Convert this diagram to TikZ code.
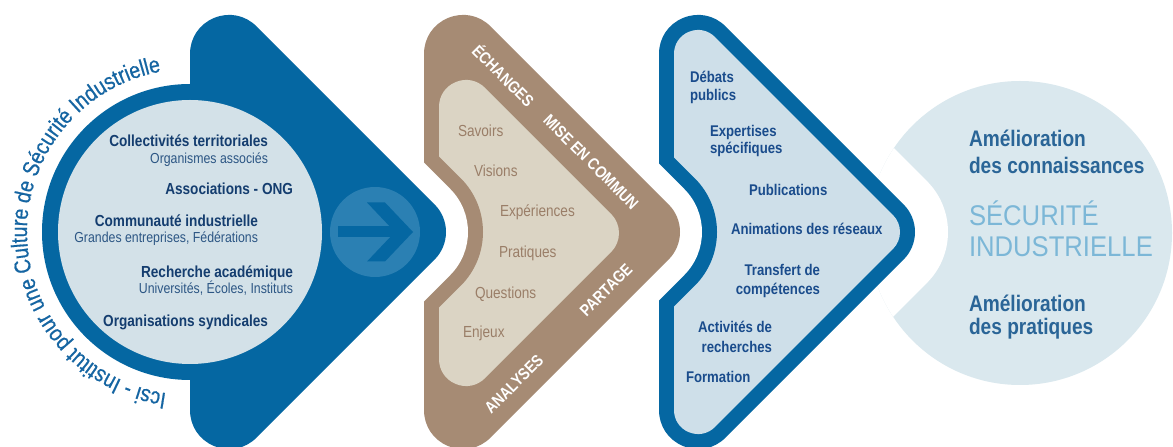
\documentclass[tikz,border=0pt]{standalone}
\usepackage{fontspec}
\setmainfont{Liberation Sans}[FakeStretch=0.85]
\newfontfamily\lightfont{Liberation Sans}[FakeStretch=0.9]
\newfontfamily\arcfont{Liberation Sans}[FakeStretch=0.85, FakeBold=0.6]
\usetikzlibrary{decorations.text}
\definecolor{blueA}{HTML}{0567A2}
\definecolor{lightL}{HTML}{D3E1E8}
\definecolor{arrowC}{HTML}{2B80B3}
\definecolor{navy}{HTML}{143D6F}
\definecolor{navyB}{HTML}{2C5684}
\definecolor{brownA}{HTML}{A68B74}
\definecolor{beige}{HTML}{DBD4C4}
\definecolor{beigeT}{HTML}{9A7E68}
\definecolor{cfill}{HTML}{CEDFE9}
\definecolor{ctext}{HTML}{1A4C8C}
\definecolor{rcircle}{HTML}{DAE8EE}
\definecolor{rtext}{HTML}{2A6597}
\definecolor{rlight}{HTML}{7CB7D7}
\definecolor{arcT}{HTML}{1565A2}
\tikzset{
  chev/.style={line join=round, line width=#1},
  lbl/.style={inner sep=0pt, outer sep=0pt},
  leftbold/.style={lbl, text=navy, font=\bfseries\fontsize{16}{16}\selectfont},
  leftsub/.style={lbl, text=navyB, font=\fontsize{14.5}{14.5}\selectfont},
  beigetxt/.style={lbl, anchor=base west, text=beigeT, font=\fontsize{16}{16}\selectfont},
  bandtxt/.style={lbl, text=white, font=\bfseries\fontsize{16.5}{16.5}\selectfont},
  ctxt/.style={lbl, text=ctext, font=\bfseries\fontsize{15.5}{15.5}\selectfont},
  rbold/.style={lbl, anchor=base west, text=rtext, font=\bfseries\fontsize{22.5}{22.5}\selectfont},
  rlightt/.style={lbl, anchor=base west, text=rlight, font=\lightfont\fontsize{28.5}{28.5}\selectfont},
}
\begin{document}
\begin{tikzpicture}[x=1pt,y=1pt]
\useasboundingbox (0,0) rectangle (1173,447);
\fill[white] (0,0) rectangle (1173,447);

% right circle with notch
\fill[rcircle] (1020,214) circle[radius=152];
\begin{scope}
  \clip (1020,214) circle[radius=152];
  \path[fill=white, draw=white, chev=144] (698,393) -- (876,215) -- (698,37) -- cycle;
\end{scope}

% third chevron (outlined)
\path[fill=blueA, draw=blueA, chev=78] (698,393) -- (876,215) -- (698,37) -- cycle;
\path[fill=cfill, draw=cfill, chev=48] (698,393) -- (876,215) -- (698,37) -- cycle;
\begin{scope}
  \clip (659,0) rectangle (1173,447);
  \path[fill=blueA, draw=blueA, chev=152] (463,393) -- (641,215) -- (463,37) -- cycle;
  \path[fill=white, draw=white, chev=122] (463,393) -- (641,215) -- (463,37) -- cycle;
\end{scope}

% brown chevron
\path[fill=brownA, draw=brownA, chev=78] (463,393) -- (641,215) -- (463,37) -- cycle;
\path[fill=beige, draw=beige, chev=54] (466,340) -- (592,214) -- (466,88) -- cycle;
\begin{scope}
  \clip (424,0) rectangle (1173,447);
  \path[fill=brownA, draw=brownA, chev=152] (229,393) -- (407,215) -- (229,37) -- cycle;
  \path[fill=white, draw=white, chev=122] (229,393) -- (407,215) -- (229,37) -- cycle;
\end{scope}

% blue chevron and circle
\path[fill=blueA, draw=blueA, chev=78] (229,393) -- (407,215) -- (229,37) -- cycle;
\fill[blueA] (190,215) circle[radius=148];
\fill[lightL] (190,215) circle[radius=132];

% arrow
\fill[arrowC] (375,215) circle[radius=45];
\fill[blueA] (338,209.5) rectangle (398,220.5);
\fill[blueA] (367,244.5) -- (385,244.5) -- (413,215) -- (385,185.5) -- (367,185.5) -- (395,215) -- cycle;

% arc text
\path[decorate, decoration={text along path, text align=center,
  text={|\color{arcT}\arcfont\fontsize{23}{23}\selectfont|Icsi - Institut pour une Culture de Sécurité Industrielle}}]
  (190,215) ++(264:163) arc[start angle=264, end angle=98, radius=163];

% left circle texts
\node[leftbold, anchor=base east] (l1) at (268,300) {Collectivités territoriales};
\node[leftsub, anchor=base east] (l2) at (268,283) {Organismes associés};
\node[leftbold, anchor=base east] (l3) at (293,252) {Associations - ONG};
\node[leftbold, anchor=base east] (l4) at (258,220) {Communauté industrielle};
\node[leftsub, anchor=base east] (l5) at (258,204) {Grandes entreprises, Fédérations};
\node[leftbold, anchor=base east] (l6) at (293,169) {Recherche académique};
\node[leftsub, anchor=base east] (l7) at (293,153) {Universités, Écoles, Instituts};
\node[leftbold, anchor=base east] (l8) at (268,120) {Organisations syndicales};

% beige texts
\node[beigetxt] (b1) at (458,310) {Savoirs};
\node[beigetxt] (b2) at (474,270) {Visions};
\node[beigetxt] (b3) at (500,230) {Expériences};
\node[beigetxt] (b4) at (499,189) {Pratiques};
\node[beigetxt] (b5) at (475,148.5) {Questions};
\node[beigetxt] (b6) at (463,109) {Enjeux};

% band texts
\node[bandtxt, rotate=-45] (w1) at (504,372) {ÉCHANGES};
\node[bandtxt, rotate=-45] (w2) at (591,285) {MISE EN COMMUN};
\node[bandtxt, rotate=45] (w3) at (606,157) {PARTAGE};
\node[bandtxt, rotate=45] (w4) at (514,63) {ANALYSES};

% third chevron texts
\node[ctxt, anchor=base west] (c1) at (690,364) {Débats};
\node[ctxt, anchor=base west] (c2) at (690,346) {publics};
\node[ctxt, anchor=base west] (c3) at (710,310) {Expertises};
\node[ctxt, anchor=base west] (c4) at (710,293) {spécifiques};
\node[ctxt, anchor=base west] (c5) at (749,251) {Publications};
\node[ctxt, anchor=base west] (c6) at (731,212) {Animations des réseaux};
\node[ctxt, anchor=base east] (c7) at (820,171) {Transfert de};
\node[ctxt, anchor=base east] (c8) at (820,152) {compétences};
\node[ctxt, anchor=base east] (c9) at (772,114) {Activités de};
\node[ctxt, anchor=base east] (c10) at (772,94) {recherches};
\node[ctxt, anchor=base west] (c11) at (686,64) {Formation};

% right circle texts
\node[rbold] (r1) at (969,300) {Amélioration};
\node[rbold] (r2) at (969,273) {des connaissances};
\node[rlightt] (r3) at (969,221) {SÉCURITÉ};
\node[rlightt] (r4) at (969,190) {INDUSTRIELLE};
\node[rbold] (r5) at (969,135) {Amélioration};
\node[rbold] (r6) at (969,112) {des pratiques};
\end{tikzpicture}
\end{document}
